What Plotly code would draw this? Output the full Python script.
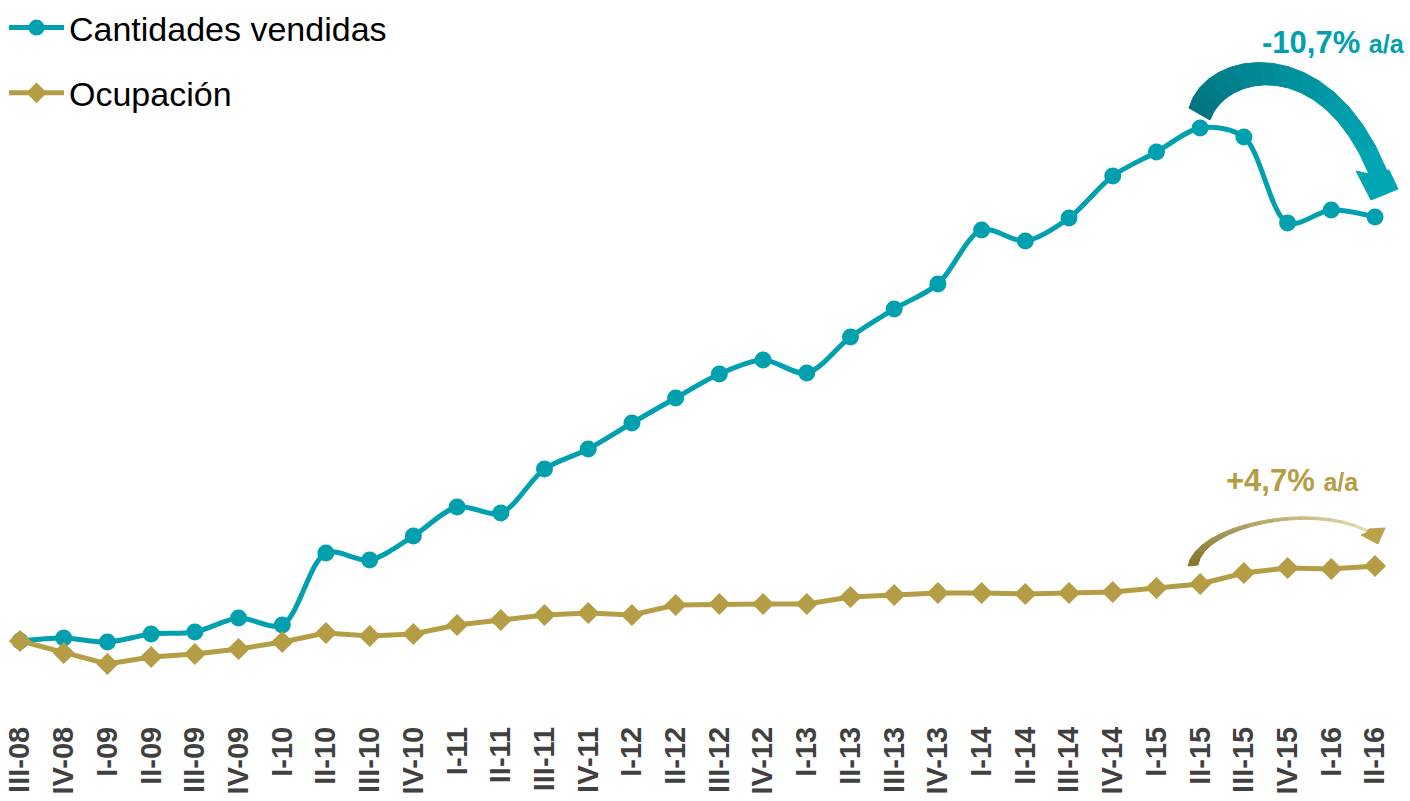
import plotly.graph_objects as go

categories = ["III-08", "IV-08", "I-09", "II-09", "III-09", "IV-09", "I-10", "II-10",
              "III-10", "IV-10", "I-11", "II-11", "III-11", "IV-11", "I-12", "II-12",
              "III-12", "IV-12", "I-13", "II-13", "III-13", "IV-13", "I-14", "II-14",
              "III-14", "IV-14", "I-15", "II-15", "III-15", "IV-15", "I-16", "II-16"]

cantidades = [100.0, 100.75, 99.75, 101.75, 102.25, 105.75, 104.0, 122.0,
              120.25, 126.25, 133.5, 132.0, 143.0, 148.0, 154.5, 160.75,
              166.75, 170.25, 167.0, 176.0, 183.0, 189.25, 202.75, 200.0,
              205.75, 216.25, 222.25, 228.25, 226.0, 204.5, 207.75, 206.0]

ocupacion = [100.0, 97.0, 94.25, 96.0, 96.75, 98.0, 99.75, 102.0,
             101.25, 101.75, 104.0, 105.25, 106.5, 107.0, 106.5, 109.0,
             109.25, 109.25, 109.25, 111.0, 111.5, 112.0, 112.0, 111.75,
             112.0, 112.25, 113.25, 114.25, 117.0, 118.25, 118.0, 118.75]

TEAL = "#00A0AF"
GOLD = "#B59D45"
FONT = "Liberation Sans, Arial, sans-serif"

W, H = 1410, 801
ML, MR, MT, MB = 20, 35, 20, 81
PW, PH = W - ML - MR, H - MT - MB


def px(x, y):
    return (x - ML) / PW, (H - MB - y) / PH


def bez(p, t):
    a = (1 - t) ** 3
    b = 3 * (1 - t) ** 2 * t
    c = 3 * (1 - t) * t ** 2
    d = t ** 3
    return (a * p[0][0] + b * p[1][0] + c * p[2][0] + d * p[3][0],
            a * p[0][1] + b * p[1][1] + c * p[2][1] + d * p[3][1])


def path_of(points):
    s = ""
    for i, (x, y) in enumerate(points):
        X, Y = px(x, y)
        s += ("M" if i == 0 else "L") + f"{X:.5f},{Y:.5f} "
    return s + "Z"


def mix(c1, c2, f):
    a = [int(c1[i:i + 2], 16) for i in (1, 3, 5)]
    b = [int(c2[i:i + 2], 16) for i in (1, 3, 5)]
    return "#" + "".join(f"{int(round(a[k] + (b[k] - a[k]) * f)):02x}" for k in range(3))


def arrow_shapes(outer, inner, head, c0, c1, chead, n=16):
    shapes = []
    for i in range(n):
        t0, t1 = i / n, (i + 1) / n
        pts = [bez(outer, t0), bez(outer, t1), bez(inner, t1), bez(inner, t0)]
        col = mix(c0, c1, (i + 0.5) / n)
        shapes.append(dict(type="path", xref="paper", yref="paper", path=path_of(pts),
                           fillcolor=col, line=dict(color=col, width=1), layer="above"))
    shapes.append(dict(type="path", xref="paper", yref="paper", path=path_of(head),
                       fillcolor=chead, line=dict(color=chead, width=1), layer="above"))
    return shapes


fig = go.Figure()
fig.add_trace(go.Scatter(
    x=categories, y=cantidades, name="Cantidades vendidas", mode="lines+markers",
    line=dict(color=TEAL, width=5, shape="spline", smoothing=0.9),
    marker=dict(symbol="circle", size=17, color=TEAL),
    cliponaxis=False, legendgroup="a"))
fig.add_trace(go.Scatter(
    x=categories, y=ocupacion, name="Ocupación", mode="lines+markers",
    line=dict(color=GOLD, width=5),
    marker=dict(symbol="diamond", size=17, color=GOLD),
    cliponaxis=False, legendgroup="b"))

shapes = []
shapes += arrow_shapes(
    outer=[(1189, 108), (1205, 48), (1330, 28), (1387, 171)],
    inner=[(1210, 120), (1225, 75), (1320, 55), (1369, 174)],
    head=[(1389, 170), (1398, 189), (1371, 200), (1356, 171), (1369, 174)],
    c0="#00737e", c1="#00a6b4", chead="#00a6b4")
shapes += arrow_shapes(
    outer=[(1188, 566), (1195, 525), (1310, 500), (1368, 530)],
    inner=[(1198, 565), (1203, 528), (1309, 503), (1367, 532)],
    head=[(1369, 529), (1385, 528), (1378, 544), (1361, 535), (1366, 533)],
    c0="#857428", c1="#e6dcb0", chead="#b9a24c")

ax1, ay1 = px(1407, 42)
ax2, ay2 = px(1361, 480)
annotations = [
    dict(xref="paper", yref="paper", x=ax1, y=ay1, xanchor="right", yanchor="middle",
         showarrow=False,
         text="<b>-10,7% <span style='font-size:25px'>a/a</span></b>",
         font=dict(family=FONT, size=31, color=TEAL)),
    dict(xref="paper", yref="paper", x=ax2, y=ay2, xanchor="right", yanchor="middle",
         showarrow=False,
         text="<b>+4,7% <span style='font-size:25px'>a/a</span></b>",
         font=dict(family=FONT, size=31, color=GOLD)),
]

lx, ly = px(4, -1)
fig.update_layout(
    width=W, height=H,
    margin=dict(l=ML, r=MR, t=MT, b=MB, autoexpand=False),
    paper_bgcolor="white", plot_bgcolor="white",
    showlegend=True,
    legend=dict(x=lx, y=ly, xanchor="left", yanchor="top", bgcolor="rgba(0,0,0,0)",
                font=dict(family=FONT, size=34, color="#000000"),
                traceorder="grouped", tracegroupgap=18, itemwidth=55),
    xaxis=dict(type="category", range=[0, len(categories) - 1], showgrid=False,
               zeroline=False, showline=False, ticks="", tickangle=-90,
               tickfont=dict(family=FONT, size=29, color="#404040", weight="bold"),
               automargin=False, ticklabelstandoff=0),
    yaxis=dict(range=[100 + (641 - (H - MB)) * 0.25, 100 + (641 - MT) * 0.25],
               showgrid=False, zeroline=False, showline=False, showticklabels=False,
               ticks="", automargin=False),
    shapes=shapes, annotations=annotations,
)

fig.write_html("out.html", config={"displayModeBar": False},
               post_script="document.body.style.margin='0';")
